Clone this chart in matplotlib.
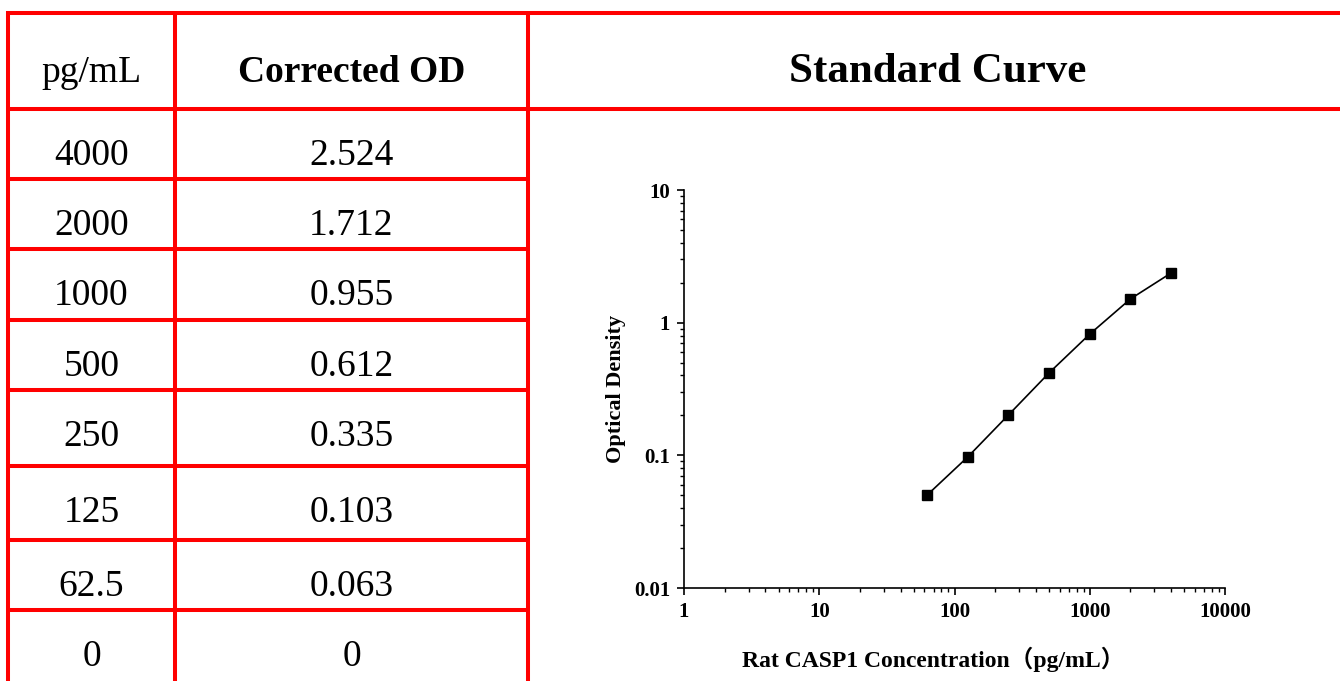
import matplotlib
matplotlib.use("Agg")
from matplotlib import pyplot as plt
from matplotlib.ticker import FixedLocator, FuncFormatter, LogLocator, NullFormatter

# table contents
conc_labels = ["4000", "2000", "1000", "500", "250", "125", "62.5", "0"]
od_labels = ["2.524", "1.712", "0.955", "0.612", "0.335", "0.103", "0.063", "0"]

# points of the standard curve
conc = [62.5, 125, 250, 500, 1000, 2000, 4000]
od = [0.050, 0.097, 0.201, 0.418, 0.82, 1.51, 2.37]

serif = ["Liberation Serif", "DejaVu Serif"]
serif_cjk = ["Liberation Serif", "Noto Sans CJK SC"]
red = "#ff0000"

W, H = 1340, 681
fig = plt.figure(figsize=(W / 100, H / 100), dpi=100)

# table drawn in pixel coordinates on a background axes
bg = fig.add_axes([0, 0, 1, 1])
bg.set_xlim(0, W)
bg.set_ylim(H, 0)
bg.axis("off")

lw = 2.9
col_x = [8, 175, 528]
row_y = [109, 179, 249, 320, 390, 466, 540, 610, H]

bg.plot([6, W], [13, 13], color=red, lw=lw, solid_capstyle="butt")
bg.plot([6, W], [109, 109], color=red, lw=lw, solid_capstyle="butt")
for y in row_y[1:-1]:
    bg.plot([6, 530], [y, y], color=red, lw=lw, solid_capstyle="butt")
for x in col_x:
    bg.plot([x, x], [11, H], color=red, lw=lw, solid_capstyle="butt")

c1 = (col_x[0] + col_x[1]) / 2
c2 = (col_x[1] + col_x[2]) / 2
c3 = (col_x[2] + W) / 2 + 4

bg.text(c1, 82, "pg/mL", ha="center", va="baseline", fontsize=27, family=serif)
bg.text(c2, 82, "Corrected OD", ha="center", va="baseline", fontsize=27,
        family=serif, fontweight="bold")
bg.text(c3, 82, "Standard Curve", ha="center", va="baseline", fontsize=31,
        family=serif, fontweight="bold")

for i, (a, b) in enumerate(zip(conc_labels, od_labels)):
    base = row_y[i] + 56
    bg.text(c1, base, a, ha="center", va="baseline", fontsize=27, family=serif)
    bg.text(c2, base, b, ha="center", va="baseline", fontsize=27, family=serif)

# standard curve
ax = fig.add_axes([684 / W, 1 - 588 / H, (1225 - 684) / W, (588 - 190) / H])
ax.plot(conc, od, color="black", lw=1.2, marker="s", markersize=7,
        markerfacecolor="black", markeredgecolor="black")
ax.set_xscale("log")
ax.set_yscale("log")
ax.set_xlim(1, 10000)
ax.set_ylim(0.01, 10)

ax.spines["top"].set_visible(False)
ax.spines["right"].set_visible(False)
for s in ("left", "bottom"):
    ax.spines[s].set_linewidth(1.2)

ax.xaxis.set_major_locator(FixedLocator([1, 10, 100, 1000, 10000]))
ax.yaxis.set_major_locator(FixedLocator([0.01, 0.1, 1, 10]))
ax.xaxis.set_minor_locator(LogLocator(base=10, subs=range(2, 10)))
ax.yaxis.set_minor_locator(LogLocator(base=10, subs=range(2, 10)))
fmt = FuncFormatter(lambda v, p: "%g" % v)
ax.xaxis.set_major_formatter(fmt)
ax.yaxis.set_major_formatter(fmt)
ax.xaxis.set_minor_formatter(NullFormatter())
ax.yaxis.set_minor_formatter(NullFormatter())

ax.tick_params(which="major", direction="out", length=5, width=1.2, pad=5)
ax.tick_params(which="minor", direction="out", length=3, width=1.0)
for lab in ax.get_xticklabels() + ax.get_yticklabels():
    lab.set_fontfamily(serif)
    lab.set_fontweight("bold")
    lab.set_fontsize(15)

ax.set_xlabel("Rat CASP1 Concentration（pg/mL）", family=serif_cjk,
              fontweight="bold", fontsize=17)
ax.xaxis.set_label_coords(0.46, -0.148)
ax.set_ylabel("Optical Density", family=serif, fontweight="bold",
              fontsize=16, labelpad=6)

fig.savefig("out.png", dpi=100)
